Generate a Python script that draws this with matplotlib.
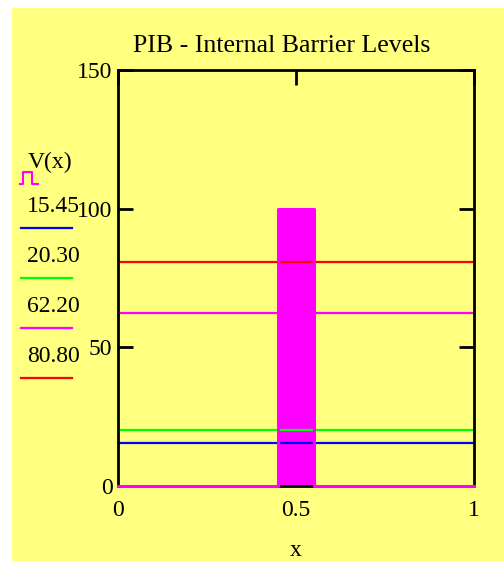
import matplotlib
matplotlib.use('Agg')
import matplotlib.pyplot as plt
from matplotlib.lines import Line2D
from matplotlib.patches import Rectangle

# barrier potential V(x) on 0..1
x_pts = [0.0, 0.45, 0.45, 0.55, 0.55, 1.0]
v_pts = [0, 0, 100, 100, 0, 0]

# horizontal energy levels (legend order, top to bottom)
levels = [15.45, 20.30, 62.20, 80.80]
level_colors = ['#0000ff', '#00ff00', '#ff00ff', '#ff0000']

x_ticks = [0, 0.5, 1]
x_tick_labels = ['0', '0.5', '1']
y_ticks = [0, 50, 100, 150]

W, H = 504, 561
YELLOW = '#ffff80'
FONT = 'Liberation Serif'
FS = 17

fig = plt.figure(figsize=(W / 100, H / 100), dpi=100)
fig.patch.set_facecolor('white')
fig.add_artist(Rectangle((12 / W, 0), 1 - 12 / W, 1 - 8 / H,
                         transform=fig.transFigure, facecolor=YELLOW,
                         edgecolor='none', zorder=-10))

ax = fig.add_axes([118 / W, 1 - 486 / H, (474 - 118) / W, (486 - 70) / H])
ax.set_facecolor(YELLOW)

ax.fill_between(x_pts, v_pts, color='#ff00ff', lw=0, zorder=1)
for lv, c in zip(levels, level_colors):
    ax.axhline(lv, color=c, lw=1.6, zorder=2)
# V(x) trace drawn over the bottom spine, as in the original
ax.plot(x_pts, v_pts, color='#ff00ff', lw=2.2, zorder=3, clip_on=False,
        solid_capstyle='projecting')

ax.set_xlim(0, 1)
ax.set_ylim(0, 150)
ax.set_xticks(x_ticks)
ax.set_xticklabels(x_tick_labels)
ax.set_yticks(y_ticks)
for s in ax.spines.values():
    s.set_linewidth(2)
ax.tick_params(axis='both', direction='in', length=11, width=2,
               top=True, right=True, labelsize=FS)
ax.tick_params(axis='x', bottom=False, pad=10)
ax.tick_params(axis='y', pad=4)
for lab in ax.get_xticklabels() + ax.get_yticklabels():
    lab.set_family(FONT)

# title is centred a little left of the plot centre in the original
ax.set_title('PIB - Internal Barrier Levels', fontsize=18.6, family=FONT,
             pad=13, x=0.46)
ax.set_xlabel('x', fontsize=FS, family=FONT, labelpad=14)

# left-side trace legend
fig.text(50 / W, 1 - 162 / H, 'V(x)', fontsize=FS, family=FONT,
         ha='center', va='center')
fx = [20, 23, 23, 32, 32, 38]
fy = [184, 184, 172, 172, 184, 184]
fig.add_artist(Line2D([a / W for a in fx], [1 - b / H for b in fy],
                      transform=fig.transFigure, color='#ff00ff', lw=1.5))
for i, (lv, c) in enumerate(zip(levels, level_colors)):
    ty = 207 + 50 * i
    fig.text(53 / W, 1 - ty / H, f'{lv:.2f}', fontsize=FS, family=FONT,
             ha='center', va='center')
    ly = 1 - (ty + 21) / H
    fig.add_artist(Line2D([21 / W, 72 / W], [ly, ly],
                          transform=fig.transFigure, color=c, lw=1.6))

fig.savefig('out.png', dpi=100, facecolor='white')
